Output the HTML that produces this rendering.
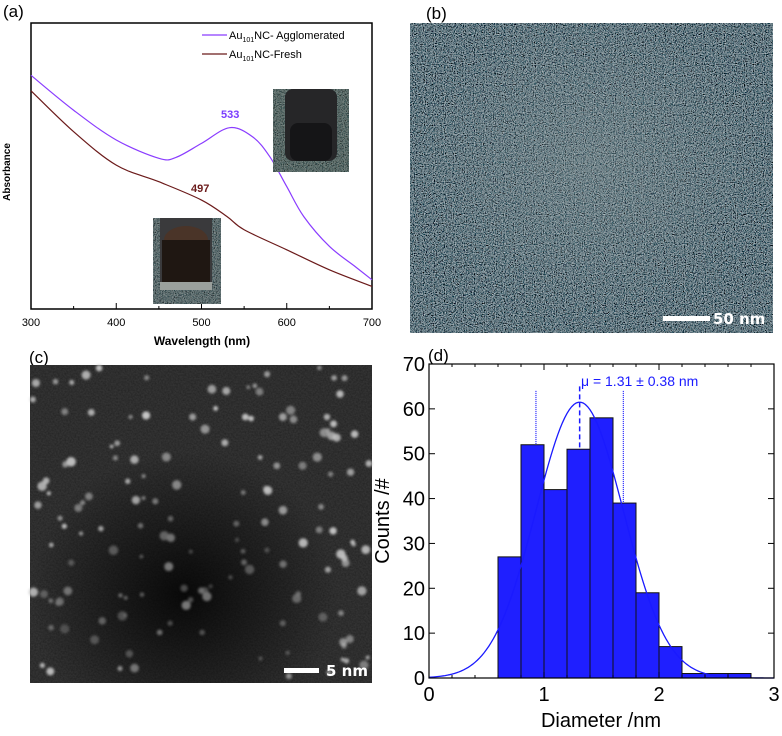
<!DOCTYPE html>
<html><head><meta charset="utf-8"><style>
html,body{margin:0;padding:0;background:#fff;}
body{width:782px;height:731px;overflow:hidden;font-family:"Liberation Sans",sans-serif;}
</style></head><body>
<svg id="fig" width="782" height="731" viewBox="0 0 782 731" xmlns="http://www.w3.org/2000/svg" font-family="Liberation Sans, sans-serif">
<defs>
<filter id="noiseB" x="0" y="0" width="100%" height="100%">
<feTurbulence type="fractalNoise" baseFrequency="0.9" numOctaves="2" seed="3"/>
<feColorMatrix type="matrix" values="0.6 0.6 0.6 0 -0.76  0.64 0.64 0.64 0 -0.76  0.66 0.66 0.66 0 -0.76  0 0 0 0 1"/>
</filter>
<filter id="noiseC" x="0" y="0" width="100%" height="100%">
<feTurbulence type="fractalNoise" baseFrequency="0.6" numOctaves="2" seed="7"/>
<feColorMatrix type="matrix" values="0 0 0 0 0  0 0 0 0 0  0 0 0 0 0  0.5 0 0 0 -0.15"/>
</filter>
<radialGradient id="darkC" cx="0.45" cy="0.72" r="0.45">
<stop offset="0" stop-color="#0a0a0a"/><stop offset="1" stop-color="#0a0a0a" stop-opacity="0"/>
</radialGradient>
<radialGradient id="lightB" cx="0.5" cy="0.45" r="0.5">
<stop offset="0" stop-color="#8a9898" stop-opacity="0.35"/><stop offset="1" stop-color="#8a9898" stop-opacity="0"/>
</radialGradient>
<filter id="blur1"><feGaussianBlur stdDeviation="1.4"/></filter>
</defs>

<!-- Panel a -->
<g id="panelA">
<text x="3" y="17" font-size="17">(a)</text>
<rect x="31" y="23" width="341" height="286" fill="none" stroke="#000" stroke-width="1.5"/>
<g id="aTicks"></g>
<g id="aCurves"></g>
<text x="4" y="166" font-size="10" font-weight="bold" transform="rotate(-90 10 166)" text-anchor="middle">Absorbance</text>
<text x="202" y="345" font-size="12" font-weight="bold" text-anchor="middle">Wavelength (nm)</text>
<g>
<line x1="202" y1="35" x2="227" y2="35" stroke="#8a3cff" stroke-width="1.3"/>
<text x="229" y="39" font-size="11">Au<tspan font-size="7" dy="3">101</tspan><tspan dy="-3">NC- Agglomerated</tspan></text>
<line x1="202" y1="54" x2="227" y2="54" stroke="#6b1a1a" stroke-width="1.3"/>
<text x="229" y="58" font-size="11">Au<tspan font-size="7" dy="3">101</tspan><tspan dy="-3">NC-Fresh</tspan></text>
</g>
<text x="221" y="118" font-size="11" font-weight="bold" fill="#7a3cff">533</text>
<text x="191" y="192" font-size="11" font-weight="bold" fill="#6b1a1a">497</text>
<g>
<rect x="273" y="89" width="76" height="83" fill="#4e5a4c"/>
<rect x="273" y="89" width="76" height="83" filter="url(#noiseB)" opacity="0.5"/>
<rect x="285" y="89" width="52" height="72" rx="8" fill="#262628"/>
<rect x="290" y="123" width="42" height="38" rx="8" fill="#151517"/>
</g>
<g>
<rect x="153" y="218" width="68" height="86" fill="#56605a"/>
<rect x="153" y="218" width="68" height="86" filter="url(#noiseB)" opacity="0.5"/>
<rect x="160" y="218" width="52" height="72" fill="#3a3a3c"/>
<ellipse cx="186" cy="240" rx="22" ry="14" fill="#4a3428"/>
<rect x="162" y="240" width="48" height="44" fill="#1f1712"/>
<rect x="160" y="282" width="52" height="8" fill="#9aa09c"/>
</g>
</g>

<!-- Panel b -->
<g id="panelB">
<text x="426" y="19" font-size="17">(b)</text>
<rect x="410" y="23" width="363" height="310" fill="#3d4447"/>
<rect x="410" y="23" width="363" height="310" filter="url(#noiseB)"/>
<rect x="410" y="23" width="363" height="310" fill="url(#lightB)"/>
<rect x="663" y="316" width="47" height="5" fill="#fff"/>
<text x="713" y="324" font-size="15" font-weight="bold" fill="#fff" font-family="DejaVu Sans, sans-serif">50 nm</text>
</g>

<!-- Panel c -->
<g id="panelC">
<text x="29" y="363" font-size="17">(c)</text>
<rect x="30" y="365" width="342" height="318" fill="#333"/>
<rect x="30" y="365" width="342" height="318" fill="url(#darkC)"/>
<rect x="30" y="365" width="342" height="318" filter="url(#noiseC)"/>
<g id="dots" filter="url(#blur1)"></g>
<rect x="284" y="668" width="35" height="5" fill="#fff"/>
<text x="326" y="676" font-size="15" font-weight="bold" fill="#fff" font-family="DejaVu Sans, sans-serif">5 nm</text>
</g>

<!-- Panel d -->
<g id="panelD">
<text x="428" y="361" font-size="17">(d)</text>
<g id="dBars"></g>
<g id="dTicks"></g>
<rect x="429" y="364" width="345" height="314" fill="none" stroke="#000" stroke-width="1.2"/>
<text x="601" y="727" font-size="20" text-anchor="middle">Diameter /nm</text>
<text x="0" y="0" font-size="20" text-anchor="middle" transform="translate(389 521) rotate(-90)">Counts /#</text>
<text x="581" y="386" font-size="14" fill="#1a1aff">μ = 1.31 ± 0.38 nm</text>
</g>
</svg>
<script>
// Panel a data
const wlA = [300,350,400,450,470,500,533,560,580,600,620,650,680,700];
const absAgg = [0.817,0.695,0.591,0.527,0.530,0.579,0.634,0.602,0.533,0.428,0.323,0.219,0.149,0.102];
const wlF = [300,350,400,450,500,530,550,600,650,700];
const absFresh = [0.763,0.620,0.503,0.445,0.381,0.323,0.277,0.207,0.137,0.079];
const aXTicks = [300,400,500,600,700];
// Panel d data
const binStarts = [0.6,0.8,1.0,1.2,1.4,1.6,1.8,2.0,2.2,2.4,2.6];
const counts = [27,52,42,51,58,39,19,7,1,1,1];
const dXTicks = [0,1,2,3];
const dYTicks = [0,10,20,30,40,50,60,70];
const fitMu = 1.31, fitSigma = 0.38, fitPeak = 61.5;

const NS="http://www.w3.org/2000/svg";
function mk(tag,attrs,parent){const e=document.createElementNS(NS,tag);for(const k in attrs)e.setAttribute(k,attrs[k]);parent.appendChild(e);return e;}

const ax=v=>31+(v-300)/400*341, ay=v=>309-v*286;
const aT=document.getElementById('aTicks');
aXTicks.forEach(t=>{const tx=mk('text',{x:ax(t),y:326,'font-size':11,'text-anchor':'middle'},aT);tx.textContent=t;


const l=mk('line',{x1:ax(t),x2:ax(t),y1:309,y2:303,stroke:'#000'},aT);


if(t<700){const m=mk('line',{x1:ax(t+50),x2:ax(t+50),y1:309,y2:306,stroke:'#000'},aT);

}});
function smooth(xs,ys){let p=xs.map((x,i)=>[ax(x),ay(ys[i])]);let d='M'+p[0][0]+','+p[0][1];
for(let i=0;i<p.length-1;i++){const p0=p[i-1]||p[i],p1=p[i],p2=p[i+1],p3=p[i+2]||p2;
d+=` C${p1[0]+(p2[0]-p0[0])/6},${p1[1]+(p2[1]-p0[1])/6} ${p2[0]-(p3[0]-p1[0])/6},${p2[1]-(p3[1]-p1[1])/6} ${p2[0]},${p2[1]}`;}return d;}
const aC=document.getElementById('aCurves');
const c1=mk('path',{d:smooth(wlA,absAgg),fill:'none',stroke:'#8a3cff','stroke-width':1.2},aC);


const c2=mk('path',{d:smooth(wlF,absFresh),fill:'none',stroke:'#6b1a1a','stroke-width':1.2},aC);



// dots in panel c (texture)
const dg=document.getElementById('dots');let s=12345;const r=()=>{s=(s*16807)%2147483647;return s/2147483647;};
for(let i=0;i<150;i++){const x=32+r()*338,y=367+r()*314;const dark=(Math.hypot((x-185)/150,(y-595)/80)<1);
const c=mk('circle',{cx:x,cy:y,r:1.8+r()*3,fill:dark?'#777':'#c8c8c8',opacity:0.5+r()*0.5},dg);

}

// panel d
const dx=v=>429+v*115, dy=v=>678-v*314/70;
const dB=document.getElementById('dBars');
binStarts.forEach((b,i)=>{const rc=mk('rect',{x:dx(b),y:dy(counts[i]),width:dx(b+0.2)-dx(b),height:dy(0)-dy(counts[i]),fill:'#1f1fff',stroke:'#111','stroke-width':1},dB);

});
let fd='';for(let v=0;v<=3.0001;v+=0.02){const y=fitPeak*Math.exp(-((v-fitMu)**2)/(2*fitSigma**2));fd+=(fd?'L':'M')+dx(v)+','+dy(y);}
const fit=mk('path',{d:fd,fill:'none',stroke:'#1a1aff','stroke-width':1.3},dB);


const ml=mk('line',{x1:dx(fitMu),x2:dx(fitMu),y1:dy(65),y2:dy(51),stroke:'#1a1aff','stroke-width':1.5,'stroke-dasharray':'5,3'},dB);


[[fitMu-fitSigma,52],[fitMu+fitSigma,39]].forEach(([v,c])=>{const l=mk('line',{x1:dx(v),x2:dx(v),y1:dy(64),y2:dy(c),stroke:'#1a1aff','stroke-width':1.2,'stroke-dasharray':'1,1'},dB);

});
const dT=document.getElementById('dTicks');
dXTicks.forEach(t=>{const tx=mk('text',{x:dx(t),y:701,'font-size':20,'text-anchor':'middle'},dT);tx.textContent=t;


[0,0.2,0.4,0.6,0.8].forEach(o=>{if(t+o<=3){const l=mk('line',{x1:dx(t+o),x2:dx(t+o),y1:678,y2:o?675:672,stroke:'#000'},dT);


const l2=mk('line',{x1:dx(t+o),x2:dx(t+o),y1:364,y2:o?367:370,stroke:'#000'},dT);

}});});
dYTicks.forEach(t=>{const tx=mk('text',{x:425,y:dy(t)+7,'font-size':20,'text-anchor':'end'},dT);tx.textContent=t;


const l=mk('line',{x1:429,x2:435,y1:dy(t),y2:dy(t),stroke:'#000'},dT);


const l2=mk('line',{x1:774,x2:768,y1:dy(t),y2:dy(t),stroke:'#000'},dT);

});
</script>
</body></html>
